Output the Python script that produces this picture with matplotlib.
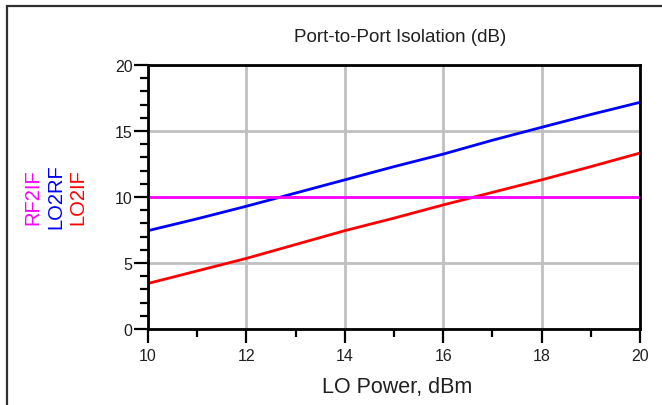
import matplotlib
matplotlib.use("Agg")
import matplotlib.pyplot as plt
import numpy as np
from matplotlib.patches import Rectangle

plt.rcParams["font.family"] = ["Liberation Sans", "DejaVu Sans"]

# data
lo_power = [10, 11, 12, 13, 14, 15, 16, 17, 18, 19, 20]
lo2rf = [7.45, 8.35, 9.3, 10.3, 11.3, 12.3, 13.25, 14.3, 15.28, 16.25, 17.17]
lo2if = [3.45, 4.4, 5.35, 6.4, 7.45, 8.4, 9.4, 10.35, 11.3, 12.3, 13.33]
rf2if = [10, 10, 10, 10, 10, 10, 10, 10, 10, 10, 10]

series = [
    ("RF2IF", rf2if, "#FF00FF"),
    ("LO2RF", lo2rf, "#0000FF"),
    ("LO2IF", lo2if, "#FF0000"),
]

W, H = 662, 406
fig = plt.figure(figsize=(W / 100, H / 100), dpi=100)
ax = fig.add_axes([148 / W, 1 - 330 / H, (640 - 148) / W, (330 - 66) / H])

ax.grid(True, color="#C0C0C0", linewidth=2.0)
ax.set_axisbelow(True)

# draw order: red, blue, magenta on top
for name, vals, col in reversed(series):
    ax.plot(lo_power, vals, color=col, linewidth=2.0, solid_capstyle="butt")

ax.set_xlim(10, 20)
ax.set_ylim(0, 20)
ax.set_xticks(np.arange(10, 21, 2))
ax.set_xticks(np.arange(11, 20, 2), minor=True)
ax.set_yticks(np.arange(0, 21, 5))
ax.set_yticks(np.arange(0, 21, 1), minor=True)

for s in ax.spines.values():
    s.set_linewidth(2.0)
    s.set_color("black")

ax.tick_params(which="major", direction="out", length=10, width=1.6, labelsize=11.5, colors="black", pad=3)
ax.tick_params(which="minor", direction="out", length=5.5, width=1.6)
ax.tick_params(axis="y", which="major", pad=1)
ax.tick_params(axis="x", which="major", pad=4)
ax.tick_params(axis="y", which="minor", length=5.5)
ax.tick_params(axis="x", which="minor", length=6)
for lab in ax.get_xticklabels() + ax.get_yticklabels():
    lab.set_color("#202020")

fig.text(400 / W, 1 - 38 / H, "Port-to-Port Isolation (dB)", ha="center", va="center",
         fontsize=13.5, color="#202020")
fig.text(397 / W, 1 - 388 / H, "LO Power, dBm", ha="center", va="center",
         fontsize=15.5, color="#202020")

label_x = [33, 56, 78]
for (name, vals, col), lx in zip(series, label_x):
    fig.text(lx / W, 1 - 197 / H, name, rotation=90, ha="center", va="center",
             fontsize=14.5, color=col)

# outer frame, running off the right and bottom edge
fig.add_artist(Rectangle((7 / W, -0.2), 1.5, 1.2 - 7 / H, fill=False,
                         edgecolor="#303030", linewidth=1.6, transform=fig.transFigure))

fig.savefig("out.png", dpi=100)
